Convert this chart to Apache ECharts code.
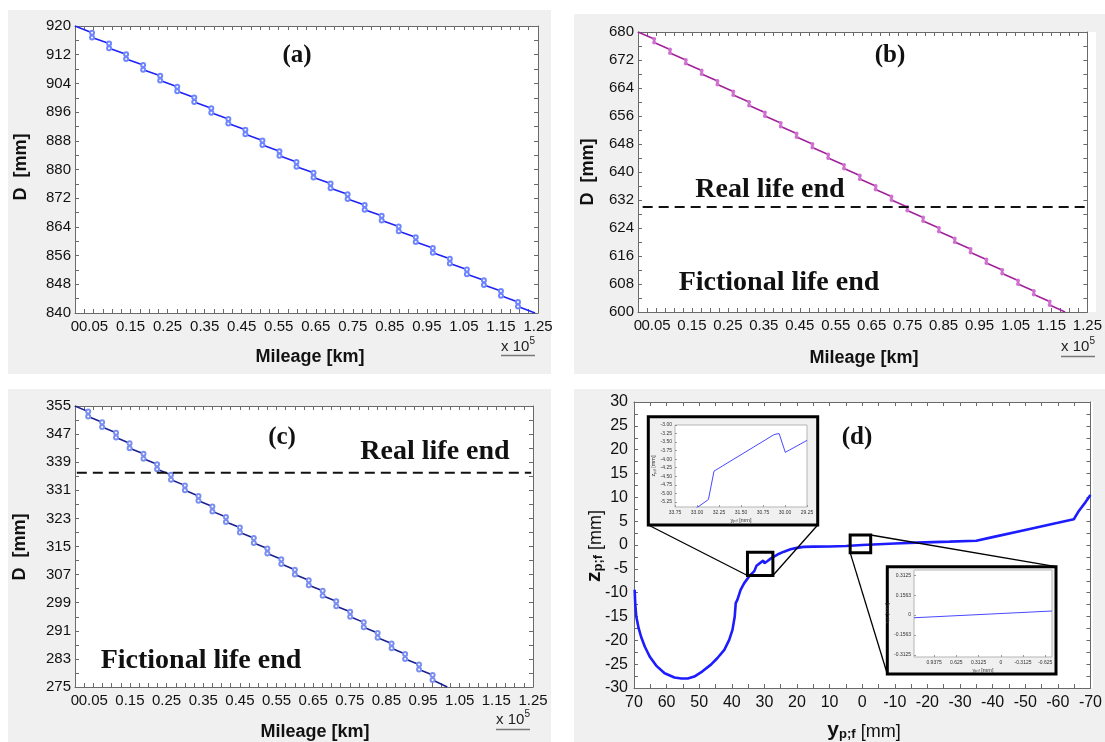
<!DOCTYPE html>
<html><head><meta charset="utf-8">
<script src="https://cdn.jsdelivr.net/npm/echarts@6/dist/echarts.min.js"></script>
<style>html,body{margin:0;padding:0;background:#fff}#c{width:1105px;height:742px}</style>
</head><body><div id="c"></div>
<script>
// ---------------- data ----------------
const mileageLabels = [0.05,0.15,0.25,0.35,0.45,0.55,0.65,0.75,0.85,0.95,1.05,1.15,1.25];
const mileageOrigin = 0;
const aDLabels = [840,848,856,864,872,880,888,896,904,912,920];
const bDLabels = [600,608,616,624,632,640,648,656,664,672,680];
const cDLabels = [275,283,291,299,307,315,323,331,339,347,355];
const dYLabels = [70,60,50,40,30,20,10,0,-10,-20,-30,-40,-50,-60,-70];
const dZLabels = [-30,-25,-20,-15,-10,-5,0,5,10,15,20,25,30];
const in1YLabels = [33.75,33.00,32.25,31.50,30.75,30.00,29.25];
const in1ZLabels = [-5.25,-5.00,-4.75,-4.50,-4.25,-4.00,-3.75,-3.50,-3.25,-3.00];
const in2YLabels = [0.9375,0.625,0.3125,0,-0.3125,-0.625];
const in2ZLabels = [0.3125,0.1563,0,-0.1563,-0.3125];

// (a) wheel diameter D [mm] vs mileage [x10^5 km]
const aStart = [0, 920];
const aStepKm = [0.046,0.092,0.138,0.184,0.230,0.276,0.322,0.368,0.414,0.460,0.506,0.552,0.598,0.644,0.690,0.736,0.782,0.828,0.874,0.920,0.966,1.012,1.058,1.104,1.150,1.196];
const aDBefore = [918.1,915.1,912.1,909.1,906.1,903.1,900.1,897.1,894.1,891.1,888.1,885.1,882.1,879.1,876.1,873.1,870.1,867.1,864.1,861.1,858.1,855.1,852.1,849.1,846.1,843.1];
const aDAfter  = [916.8,913.8,910.8,907.8,904.8,901.8,898.8,895.8,892.8,889.8,886.8,883.8,880.8,877.8,874.8,871.8,868.8,865.8,862.8,859.8,856.8,853.8,850.8,847.8,844.8,841.8];
const aEnd = [1.242, 840];

// (b)
const bStart = [0, 680];
const bStepKm = [0.045,0.089,0.133,0.177,0.221,0.265,0.309,0.353,0.397,0.441,0.485,0.529,0.573,0.617,0.661,0.705,0.749,0.793,0.837,0.881,0.925,0.969,1.013,1.057,1.101,1.145];
const bDBefore = [678,675,672,669,666,663,660,657,654,651,648,645,642,639,636,633,630,627,624,621,618,615,612,609,606,603];
const bDAfter  = [677,674,671,668,665,662,659,656,653,650,647,644,641,638,635,632,629,626,623,620,617,614,611,608,605,602];
const bEnd = [1.188, 600];
const bRealLifeEnd = 630;
const bDashKm = [0.013, 1.275];

// (c)
const cStart = [0, 355];
const cStepKm = [0.036,0.074,0.112,0.149,0.187,0.224,0.262,0.300,0.337,0.375,0.412,0.450,0.488,0.525,0.563,0.600,0.638,0.676,0.713,0.751,0.788,0.826,0.864,0.901,0.939,0.976];
const cDBefore = [353.4,350.4,347.4,344.4,341.4,338.4,335.4,332.4,329.4,326.4,323.4,320.4,317.4,314.4,311.4,308.4,305.4,302.4,299.4,296.4,293.4,290.4,287.4,284.4,281.4,278.4];
const cDAfter  = [352.0,349.0,346.0,343.0,340.0,337.0,334.0,331.0,328.0,325.0,322.0,319.0,316.0,313.0,310.0,307.0,304.0,301.0,298.0,295.0,292.0,289.0,286.0,283.0,280.0,277.0];
const cEnd = [1.016, 275];
const cRealLifeEnd = 336;
const cDashKm = [0.005, 1.245];

// (d) profile [y_p;f, z_p;f] in mm
const dProfile = [[69.8,-9.4],[69.6,-12.5],[69.3,-15.0],[68.6,-17.4],[67.8,-19.3],[66.7,-21.3],[65.2,-23.4],[63.2,-25.3],[60.6,-26.9],[57.6,-27.8],[55.5,-28.0],[53.5,-28.0],[51.5,-27.6],[49.0,-26.5],[46.4,-25.1],[44.4,-23.7],[42.3,-22.0],[40.8,-19.9],[39.8,-17.8],[39.1,-15.0],[38.8,-12.2],[38.3,-11.5],[37.3,-9.4],[36.2,-8.0],[34.7,-6.6],[33.9,-6.0],[33.1,-5.48],[32.61,-5.18],[32.42,-4.35],[30.37,-3.28],[30.2,-3.25],[29.99,-3.8],[29.25,-3.45],[28.0,-2.8],[26.0,-2.0],[24.0,-1.4],[22.0,-0.9],[20.0,-0.6],[18.0,-0.4],[15.0,-0.35],[10.0,-0.3],[5.0,-0.2],[0.0,0.0],[-5.0,0.15],[-10.0,0.3],[-16.6,0.5],[-26.8,0.7],[-35.0,0.9],[-40.0,1.65],[-50.0,3.15],[-60.0,4.65],[-64.9,5.4],[-66.5,7.2],[-68.5,9.0],[-70.0,10.5]];
const inset1Profile = [[33.1,-5.48],[32.61,-5.18],[32.42,-4.35],[30.37,-3.28],[30.2,-3.25],[29.99,-3.8],[29.25,-3.45]];
const inset2Profile = [[1.22,-0.021],[-0.72,0.032]];
const zoomBox1 = [[35.2,-1.5],[27.4,-6.4]];
const zoomBox2 = [[3.7,2.1],[-2.6,-1.6]];

// ---------------- helpers ----------------
const FONT = '"Liberation Sans", Arial, sans-serif';
const SERIF = '"Liberation Serif", "Times New Roman", serif';
const AX = '#6a6a6a';
function steps(a, b, s){ const r=[]; const n=Math.round((b-a)/s); for(let i=0;i<=n;i++) r.push(+(a+i*s).toFixed(6)); return r; }
function stairData(start, km, before, after, end){
  const d=[{value:start, symbol:'none'}];
  for(let i=0;i<km.length;i++){ d.push([km[i],before[i]]); d.push([km[i],after[i]]); }
  d.push({value:end, symbol:'none'});
  return d;
}
const kmFmt = v => (Math.abs(v)<1e-9 ? '0' : v.toFixed(2));

function xAxes(gi,min,max,labels,ticks,fs,margin,inverse,fmt,tickLen){
  const base={gridIndex:gi,type:'value',min:min,max:max,inverse:!!inverse,splitLine:{show:false},
    axisLine:{show:true,onZero:false,lineStyle:{color:AX,width:1}},
    axisTick:{show:true,inside:true,length:tickLen||4,customValues:ticks,lineStyle:{color:AX,width:1}}};
  return [
    Object.assign({},base,{position:'bottom',axisLabel:{show:true,customValues:labels,formatter:fmt,fontSize:fs,color:'#111',fontFamily:FONT,margin:margin,showMinLabel:true,showMaxLabel:true,hideOverlap:false}}),
    Object.assign({},base,{position:'top',axisLabel:{show:false}})
  ];
}
function yAxes(gi,min,max,labels,ticks,fs,margin,fmt,tickLen){
  const base={gridIndex:gi,type:'value',min:min,max:max,splitLine:{show:false},
    axisLine:{show:true,onZero:false,lineStyle:{color:AX,width:1}},
    axisTick:{show:true,inside:true,length:tickLen||4,customValues:ticks,lineStyle:{color:AX,width:1}}};
  return [
    Object.assign({},base,{position:'left',axisLabel:{show:true,customValues:labels,formatter:fmt,fontSize:fs,color:'#111',fontFamily:FONT,margin:margin,showMinLabel:true,showMaxLabel:true,hideOverlap:false}}),
    Object.assign({},base,{position:'right',axisLabel:{show:false}})
  ];
}

const grids = [
  {left:75, top:26, width:463, height:287},
  {left:638, top:32, width:458, height:280},
  {left:75, top:406, width:458, height:281},
  {left:634, top:402, width:459, height:286},
  {left:675, top:425, width:132, height:82, show:true, backgroundColor:'#fff', borderColor:'#b5b5b5', borderWidth:1},
  {left:914, top:570, width:138, height:87, show:true, backgroundColor:'#fff', borderColor:'#b5b5b5', borderWidth:1}
];

const kmTicks = steps(0,1.25,0.025);
const xAxisList = [].concat(
  xAxes(0,0,1.25,mileageLabels,kmTicks,15,6,false,kmFmt),
  xAxes(1,0,1.25,mileageLabels,kmTicks,15,6,false,kmFmt),
  xAxes(2,0,1.25,mileageLabels,kmTicks,15,6,false,kmFmt),
  xAxes(3,-70,70,dYLabels,steps(-70,70,5),16,7,true,v=>String(v))
);
const yAxisList = [].concat(
  yAxes(0,840,920,aDLabels,steps(840,920,4),15,4,v=>String(v)),
  yAxes(1,600,680,bDLabels,steps(600,680,4),15,4,v=>String(v)),
  yAxes(2,275,355,cDLabels,steps(275,355,4),15,4,v=>String(v)),
  yAxes(3,-30,30,dZLabels,steps(-30,30,2.5),16,6,v=>String(v))
);
const tinyRich = {s:{fontSize:4, fontFamily:FONT, color:'#333', verticalAlign:'bottom'}};
function insetAxis(gi,min,max,inverse,vals,fmt,name,gap){
  return {gridIndex:gi,type:'value',min:min,max:max,inverse:inverse,splitLine:{show:false},
    axisLine:{show:false,onZero:false},axisTick:{show:true,inside:true,length:2,customValues:vals,lineStyle:{color:'#999'}},
    axisLabel:{customValues:vals,formatter:fmt,fontSize:5,color:'#333',fontFamily:FONT,margin:3,showMinLabel:true,showMaxLabel:true},
    name:name,nameLocation:'middle',nameGap:gap,nameTextStyle:{fontSize:5.5,color:'#333',fontFamily:FONT,rich:tinyRich}};
}
xAxisList.push(insetAxis(4,29.25,33.75,true,in1YLabels,v=>v.toFixed(2),'y{s|p;f} [mm]',10));
yAxisList.push(insetAxis(4,-5.4,-3.0,false,in1ZLabels,v=>v.toFixed(2),'z{s|p;f} [mm]',18));
xAxisList.push(insetAxis(5,-0.72,1.22,true,in2YLabels,v=>String(v),'y{s|p;f} [mm]',10));
yAxisList.push(insetAxis(5,-0.33,0.355,false,in2ZLabels,v=>String(v),'z{s|p;f} [mm]',20));

const series = [
  {type:'line',xAxisIndex:0,yAxisIndex:0,data:stairData(aStart,aStepKm,aDBefore,aDAfter,aEnd),
   lineStyle:{color:'#1f22f5',width:1.6},symbol:'emptyCircle',symbolSize:4,itemStyle:{color:'#6f86ff',borderWidth:1},z:3},
  {type:'line',xAxisIndex:2,yAxisIndex:2,data:stairData(bStart,bStepKm,bDBefore,bDAfter,bEnd),
   lineStyle:{color:'#a2229c',width:1.6},symbol:'emptyCircle',symbolSize:2,itemStyle:{color:'#d070d0',borderWidth:0.8},z:3},
  {type:'line',xAxisIndex:2,yAxisIndex:2,data:[[bDashKm[0],bRealLifeEnd],[bDashKm[1],bRealLifeEnd]],clip:false,
   lineStyle:{color:'#111',width:2,type:[10,6]},symbol:'none',z:4},
  {type:'line',xAxisIndex:4,yAxisIndex:4,data:stairData(cStart,cStepKm,cDBefore,cDAfter,cEnd),
   lineStyle:{color:'#1a2190',width:1.6},symbol:'emptyCircle',symbolSize:4,itemStyle:{color:'#7b8ff0',borderWidth:1},z:3},
  {type:'line',xAxisIndex:4,yAxisIndex:4,data:[[cDashKm[0],cRealLifeEnd],[cDashKm[1],cRealLifeEnd]],clip:false,
   lineStyle:{color:'#111',width:2,type:[10,6]},symbol:'none',z:4},
  {type:'line',xAxisIndex:6,yAxisIndex:6,data:dProfile,lineStyle:{color:'#1c1cff',width:2.6},symbol:'none',z:3},
  {type:'line',xAxisIndex:8,yAxisIndex:8,data:inset1Profile,lineStyle:{color:'#4848ff',width:1},symbol:'none',z:5},
  {type:'line',xAxisIndex:9,yAxisIndex:9,data:inset2Profile,lineStyle:{color:'#4848ff',width:1},symbol:'none',z:5}
];

function txt(x,y,text,size,weight,family,rot,rich,valign){
  const st={text:text,fontSize:size,fontWeight:weight,fontFamily:family,fill:'#111',
    align:'center',verticalAlign:valign||'middle',textAlign:'center',textVerticalAlign:valign||'middle'};
  if(rich) st.rich=rich;
  return {type:'text',x:x,y:y,rotation:rot||0,style:st,z:20,silent:true};
}
function rect(x,y,w,h,fill,stroke,lw,z){
  return {type:'rect',shape:{x:x,y:y,width:w,height:h},style:{fill:fill,stroke:stroke||null,lineWidth:lw||0},z:z,silent:true};
}
function line(x1,y1,x2,y2,color,w,z){
  return {type:'line',shape:{x1:x1,y1:y1,x2:x2,y2:y2},style:{stroke:color,lineWidth:w},z:z,silent:true};
}
const supRich = {a:{fontSize:15,fontFamily:FONT,fill:'#222',color:'#222',lineHeight:18,verticalAlign:'bottom'},
                 s:{fontSize:10,fontFamily:FONT,fill:'#222',color:'#222',lineHeight:10,verticalAlign:'top'}};
const subRichX = {b:{fontSize:21,fontWeight:'bold',fontFamily:FONT,lineHeight:24,verticalAlign:'bottom'},
                  s:{fontSize:13,fontWeight:'bold',fontFamily:FONT,lineHeight:13,verticalAlign:'bottom'},
                  n:{fontSize:18,fontFamily:FONT,lineHeight:24,verticalAlign:'bottom'}};
const P = Math.PI/2;
const graphics = [
  rect(8,10,543,364,'#f0f0f0',null,0,-20),
  rect(574,14,531,360,'#f0f0f0',null,0,-20),
  rect(8,389,543,353,'#f0f0f0',null,0,-20),
  rect(574,389,531,353,'#f0f0f0',null,0,-20),
  rect(75,26,463,287,'#fff',null,0,-19),
  rect(638,32,458,280,'#fff',null,0,-19),
  rect(75,406,458,281,'#fff',null,0,-19),
  rect(634,402,459,286,'#fff',null,0,-19),
  rect(648.3,416.7,169.4,108.3,'#f0f0f0','#000',3,-18),
  rect(887.3,566.7,168.7,107.3,'#f0f0f0','#000',3,-18),
  txt(297,56,'(a)',25,'bold',SERIF),
  txt(890,56,'(b)',25,'bold',SERIF),
  txt(282,438,'(c)',25,'bold',SERIF),
  txt(857,438,'(d)',25,'bold',SERIF),
  txt(770,190,'Real life end',28,'bold',SERIF),
  txt(779,283,'Fictional life end',28,'bold',SERIF),
  txt(435,452,'Real life end',28,'bold',SERIF),
  txt(201,661,'Fictional life end',28,'bold',SERIF),
  txt(310,357,'Mileage [km]',18,'bold',FONT),
  txt(864,358,'Mileage [km]',18,'bold',FONT),
  txt(315,732,'Mileage [km]',18,'bold',FONT),
  txt(21,167,'D  [mm]',18,'bold',FONT,P),
  txt(588,172,'D  [mm]',18,'bold',FONT,P),
  txt(20,547,'D  [mm]',18,'bold',FONT,P),
  txt(518,345,'{a|x 10}{s|5}',15,'normal',FONT,0,supRich),
  txt(1078,345,'{a|x 10}{s|5}',15,'normal',FONT,0,supRich),
  txt(513,718,'{a|x 10}{s|5}',15,'normal',FONT,0,supRich),
  line(501,355.5,535,355.5,'#777',1.5,20),
  line(1061,356.5,1095,356.5,'#777',1.5,20),
  line(496,729.5,530,729.5,'#777',1.5,20),
  txt(864,729,'{b|y}{s|p;f}{n| [mm]}',18,'normal',FONT,0,subRichX),
  txt(593,546,'{b|z}{s|p;f}{n| [mm]}',18,'normal',FONT,P,subRichX)
];

const chart = echarts.init(document.getElementById('c'), null, {renderer:'canvas'});
const option = {animation:false, backgroundColor:'#fff', grid:grids, xAxis:xAxisList, yAxis:yAxisList, series:series, graphic:graphics};
chart.setOption(option);

// zoom boxes and connectors placed through the (d) axes
const toPx = p => chart.convertToPixel({xAxisIndex:6, yAxisIndex:6}, p);
function boxPx(b){ const p1=toPx(b[0]), p2=toPx(b[1]);
  return {x1:Math.min(p1[0],p2[0]), x2:Math.max(p1[0],p2[0]), y1:Math.min(p1[1],p2[1]), y2:Math.max(p1[1],p2[1])}; }
const b1 = boxPx(zoomBox1), b2 = boxPx(zoomBox2);
const extra = [
  rect(b1.x1,b1.y1,b1.x2-b1.x1,b1.y2-b1.y1,null,'#000',3,21),
  rect(b2.x1,b2.y1,b2.x2-b2.x1,b2.y2-b2.y1,null,'#000',3,21),
  line(648.3,525,b1.x1,b1.y2,'#000',1.3,21),
  line(817.7,525,b1.x2,b1.y2,'#000',1.3,21),
  line(b2.x2,b2.y1,1056,566.7,'#000',1.3,21),
  line(b2.x1,b2.y2,887.3,674,'#000',1.3,21)
];
// origin "0" tick label of each mileage axis, placed through the axis scale
[[0,0],[2,2],[4,4]].forEach(([xi,yi])=>{
  const p = chart.convertToPixel({xAxisIndex:xi, yAxisIndex:yi}, [mileageOrigin, 0]);
  const gi = xi/2, g = grids[gi];
  extra.push(txt(p[0], g.top+g.height+6, kmFmt(mileageOrigin), 15, 'normal', FONT, 0, null, 'top'));
});
chart.setOption({graphic: graphics.concat(extra)});
</script></body></html>
